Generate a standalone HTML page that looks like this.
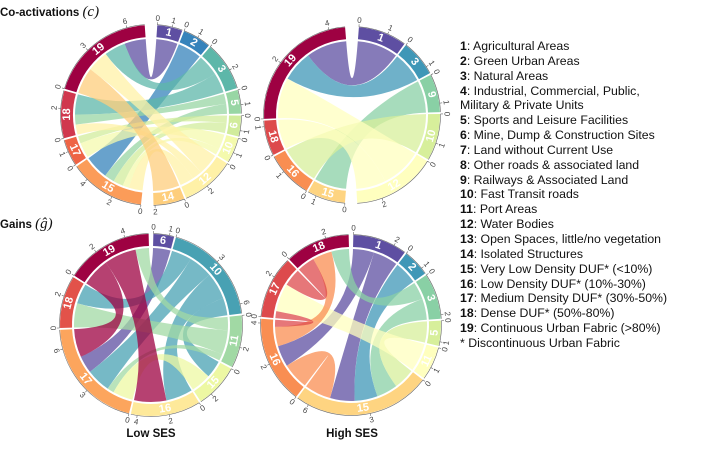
<!DOCTYPE html>
<html><head><meta charset="utf-8"><style>
body{margin:0;background:#fff;width:706px;height:458px;overflow:hidden;font-family:"Liberation Sans",sans-serif}
svg{position:absolute;left:0;top:0}
.leg{position:absolute;left:460px;top:39px;font-size:12.3px;line-height:14.85px;color:#111;white-space:nowrap}
.leg b{font-weight:bold}
</style></head><body>
<svg id="chart" width="706" height="458" viewBox="0 0 706 458">
<text x="0" y="16" font-family="Liberation Sans" font-weight="bold" font-size="11.5" fill="#111">Co-activations <tspan font-family="Liberation Serif" font-style="italic" font-weight="normal" font-size="15">(c)</tspan></text>
<text x="0" y="228" font-family="Liberation Sans" font-weight="bold" font-size="11.5" fill="#111">Gains <tspan font-family="Liberation Serif" font-style="italic" font-weight="normal" font-size="15">(ĝ)</tspan></text>
<text x="151" y="437" text-anchor="middle" font-weight="bold" font-size="11.5" fill="#111">Low SES</text>
<text x="352" y="437" text-anchor="middle" font-weight="bold" font-size="11.5" fill="#111">High SES</text>
</svg>
<div class="leg">
<div><b>1</b>: Agricultural Areas</div>
<div><b>2</b>: Green Urban Areas</div>
<div><b>3</b>: Natural Areas</div>
<div><b>4</b>: Industrial, Commercial, Public,</div>
<div>Military &amp; Private Units</div>
<div><b>5</b>: Sports and Leisure Facilities</div>
<div><b>6</b>: Mine, Dump &amp; Construction Sites</div>
<div><b>7</b>: Land without Current Use</div>
<div><b>8</b>: Other roads &amp; associated land</div>
<div><b>9</b>: Railways &amp; Associated Land</div>
<div><b>10</b>: Fast Transit roads</div>
<div><b>11</b>: Port Areas</div>
<div><b>12</b>: Water Bodies</div>
<div><b>13</b>: Open Spaces, little/no vegetation</div>
<div><b>14</b>: Isolated Structures</div>
<div><b>15</b>: Very Low Density DUF* (&lt;10%)</div>
<div><b>16</b>: Low Density DUF* (10%-30%)</div>
<div><b>17</b>: Medium Density DUF* (30%-50%)</div>
<div><b>18</b>: Dense DUF* (50%-80%)</div>
<div><b>19</b>: Continuous Urban Fabric (&gt;80%)</div>
<div>* Discontinuous Urban Fabric</div>
</div>
<script>
// Chart data: sectors and chords [from, to, value]; chord colour = "from" sector
const sectors1 = [1,2,3,5,6,10,12,14,15,17,18,19];
const chords1 = [[1,19,1.7],[2,15,1.9],[3,19,1.7],[3,18,1.6],[5,18,0.8],[5,15,0.8],[6,15,0.8],[6,17,0.6],[10,17,1.2],[10,15,0.5],[12,19,1.7],[12,18,0.8],[12,15,1.1],[14,19,2.1]];
const sectors2 = [1,3,9,10,12,15,16,18,19];
const chords2 = [[1,19,1.65],[3,19,1.25],[9,15,1.3],[10,16,1.6],[12,19,1.65],[12,18,1.2]];
const sectors3 = [6,10,11,15,16,17,18,19];
const chords3 = [[6,17,1.3],[10,18,1.5],[10,17,1.8],[10,16,2.0],[10,15,1.3],[11,19,1.0],[11,18,1.8],[11,17,0.5],[15,17,1.5],[19,16,2.4],[19,17,2.1]];
const sectors4 = [1,2,3,5,11,15,16,17,18];
const chords4 = [[1,15,1.4],[1,16,1.2],[2,15,1.3],[3,18,1.0],[3,15,1.2],[5,15,1.2],[11,17,1.6],[16,15,1.5],[16,18,1.1],[17,16,0.4],[17,18,1.0]];

const NS='http://www.w3.org/2000/svg';
const svg=document.getElementById('chart');
const stops=['#5e4fa2','#3288bd','#66c2a5','#abdda4','#e6f598','#ffffbf','#fee08b','#fdae61','#f46d43','#d53e4f','#9e0142'];
function hex(h){return [1,3,5].map(i=>parseInt(h.substr(i,2),16));}
function spectral(t){const p=t*(stops.length-1);const i=Math.min(Math.floor(p),stops.length-2);const f=p-i;const a=hex(stops[i]),b=hex(stops[i+1]);return 'rgb('+a.map((v,j)=>Math.round(v+(b[j]-v)*f)).join(',')+')';}
function mk(tag,attrs,parent){const e=document.createElementNS(NS,tag);for(const key in attrs)e.setAttribute(key,attrs[key]);(parent||svg).appendChild(e);return e;}

function drawChord(id,cx,cy,R,sectors,chords,topGap,bottomAfter,bottomGap){
  const g=mk('g',{});
  
  
  const size={};sectors.forEach(s=>{size[s]=0;});
  chords.forEach(c=>{size[c[0]]+=Number(c[2]);size[c[1]]+=Number(c[2]);});
  const small=1.2;
  const gaps=sectors.map((s,i)=>i===sectors.length-1?topGap:(s===bottomAfter?bottomGap:small));
  const avail=360-gaps.reduce((a,b)=>a+b,0);
  const total=sectors.reduce((a,s)=>a+size[s],0);
  const sc=avail/total;
  const start={},color={};
  let ang=topGap/2;
  sectors.forEach((s,i)=>{start[s]=ang;color[s]=spectral(i/(sectors.length-1));ang+=size[s]*sc+gaps[i];});
  // order chord ends inside each sector to minimise crossings
  const ends={};sectors.forEach(s=>{ends[s]=[];});
  chords.forEach((c,ci)=>{ends[c[0]].push({ci:ci,side:0,other:c[1]});ends[c[1]].push({ci:ci,side:1,other:c[0]});});
  const pos={};
  sectors.forEach(s=>{
    ends[s].sort((a,b)=>(((start[b.other]-start[s])%360+360)%360)-(((start[a.other]-start[s])%360+360)%360));
    let cur=start[s];
    ends[s].forEach(e=>{const w=Number(chords[e.ci][2])*sc;pos[e.ci+'_'+e.side]=[cur,cur+w];cur+=w;});
  });
  const P=(a,r)=>{const t=a*Math.PI/180;return [cx+r*Math.sin(t),cy-r*Math.cos(t)];};
  const rIn=R-12,rC=R-14;
  chords.forEach((c,ci)=>{
    const A=pos[ci+'_0'],B=pos[ci+'_1'];
    const p1=P(A[0],rC),p2=P(A[1],rC),q1=P(B[0],rC),q2=P(B[1],rC);
    const d='M'+p1+' A'+rC+','+rC+' 0 0 1 '+p2+' Q'+cx+','+cy+' '+q1+' A'+rC+','+rC+' 0 0 1 '+q2+' Q'+cx+','+cy+' '+p1+'Z';
    const e=mk('path',{d:d,fill:color[c[0]],'fill-opacity':0.75},g);
    
    
  });
  sectors.forEach(s=>{
    const s0=start[s],s1=s0+size[s]*sc,big=(s1-s0)>180?1:0;
    const o0=P(s0,R),o1=P(s1,R),i1=P(s1,rIn),i0=P(s0,rIn);
    const d='M'+o0+' A'+R+','+R+' 0 '+big+' 1 '+o1+' L'+i1+' A'+rIn+','+rIn+' 0 '+big+' 0 '+i0+'Z';
    const e=mk('path',{d:d,fill:color[s]},g);
    
    
    const ax=mk('path',{d:'M'+P(s0,R+0.5)+' A'+(R+0.5)+','+(R+0.5)+' 0 '+big+' 1 '+P(s1,R+0.5),fill:'none',stroke:'#666','stroke-width':0.6},g);
    
    
    const mid=(s0+s1)/2;const m=P(mid,R-6);
    const rot=(mid>90&&mid<270)?mid-180:mid;
    const lab=mk('text',{x:m[0],y:m[1],'text-anchor':'middle','dominant-baseline':'central',transform:'rotate('+rot+' '+m[0]+' '+m[1]+')',fill:'#fff','font-size':11,'font-weight':'bold'},g);
    lab.textContent=String(s);
    
    
    const sz=size[s];
    const step=sz<2?1:(sz<=5.5?2:3);
    const n=Math.min(3,Math.floor(sz/step+1e-9));
    for(let i=0;i<=n;i++){
      const v=i*step;
      const ta=s0+v*sc;
      const l=mk('line',{x1:P(ta,R+0.5)[0],y1:P(ta,R+0.5)[1],x2:P(ta,R+3)[0],y2:P(ta,R+3)[1],stroke:'#666','stroke-width':0.6},g);
      
      
      const lp=P(ta,R+7);const rr=(ta>90&&ta<270)?ta-180:ta;
      const tl=mk('text',{x:lp[0],y:lp[1],'text-anchor':'middle','dominant-baseline':'central',transform:'rotate('+rr+' '+lp[0]+' '+lp[1]+')',fill:'#444','font-size':8},g);
      tl.textContent=String(v);
      
      
    }
  });
}
drawChord('chord-coact-low',151,115,90,sectors1,chords1,8,14,8);
drawChord('chord-coact-high',352,115,88,sectors2,chords2,9,12,8);
drawChord('chord-gains-low',151,325,91,sectors3,chords3,3,null,0);
drawChord('chord-gains-high',351,325,90,sectors4,chords4,3,null,0);
</script>
</body></html>
